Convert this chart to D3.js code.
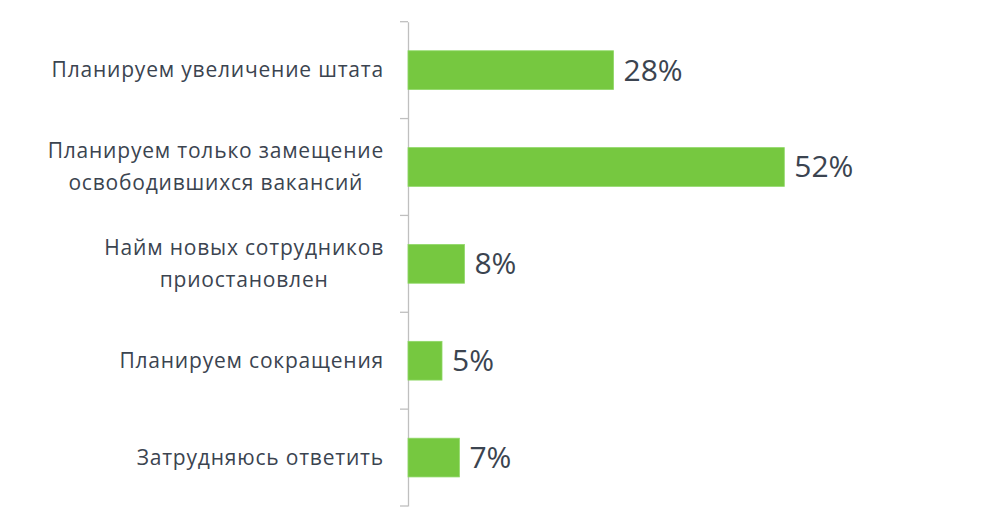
<!DOCTYPE html>
<html><head><meta charset="utf-8">
<script src="https://cdn.jsdelivr.net/npm/d3@7"></script>
<style>
html,body{margin:0;padding:0;background:#fff;}
svg{display:block;}
text{font-family:"Open Sans","Noto Sans",sans-serif;}
</style></head>
<body>
<svg id="chart" width="987" height="519"></svg>
<script>
const categories = [
  ["Планируем увеличение штата"],
  ["Планируем только замещение", "освободившихся вакансий"],
  ["Найм новых сотрудников", "приостановлен"],
  ["Планируем сокращения"],
  ["Затрудняюсь ответить"]
];
const values = [28.4, 52, 7.8, 4.7, 7.1];
const valueLabels = ["28%", "52%", "8%", "5%", "7%"];

const svg = d3.select("#chart");
const axisX = 408, plotTop = 21.7, plotBottom = 506;
const ids = categories.map((c, i) => i);

const y = d3.scaleBand().domain(ids).range([plotTop, plotBottom]).paddingInner(0.6).paddingOuter(0.3);
const yAxisScale = d3.scaleBand().domain(ids).range([plotTop, plotBottom]);
const x = d3.scaleLinear().domain([0, 52]).range([axisX, 784.3]);

// axis
const axis = d3.axisLeft(yAxisScale).tickSize(0).tickFormat("");
const gAxis = svg.append("g").attr("transform", `translate(${axisX},0)`).call(axis);
gAxis.select(".domain").attr("stroke", "#bfbfbf").attr("stroke-width", 1.3);
const boundaries = ids.map(i => yAxisScale(i)).concat([plotBottom]);
gAxis.selectAll(".bnd").data(boundaries).enter().append("line")
  .attr("x1", -8).attr("x2", 0).attr("y1", d => d).attr("y2", d => d)
  .attr("stroke", "#bfbfbf").attr("stroke-width", 1.3);

// bars
svg.selectAll(".bar").data(values).enter().append("rect")
  .attr("x", x(0)).attr("y", (d, i) => y(i))
  .attr("width", d => x(d) - x(0)).attr("height", y.bandwidth())
  .attr("fill", "#76c840").attr("stroke", "#8fd866").attr("stroke-width", 0.8);

// value labels
svg.selectAll(".val").data(values).enter().append("text")
  .attr("x", d => x(d) + 10).attr("y", (d, i) => y(i) + y.bandwidth() / 2)
  .attr("dy", "0.35em").attr("font-size", 30).attr("fill", "#3b4450")
  .text((d, i) => valueLabels[i]);

// category labels
const lh = 32;
categories.forEach((lines, i) => {
  const cy = yAxisScale(i) + yAxisScale.bandwidth() / 2;
  const g = svg.append("g");
  const texts = lines.map((ln, j) => g.append("text")
    .attr("y", cy + (j - (lines.length - 1) / 2) * lh)
    .attr("dy", "0.35em").attr("font-size", 21).attr("letter-spacing", "0.8px")
    .attr("fill", "#3b4450")
    .attr("text-anchor", "middle").text(ln));
  const w = d3.max(texts, t => t.node().getComputedTextLength());
  texts.forEach(t => t.attr("x", 384 - w / 2));
});
</script>
</body></html>
